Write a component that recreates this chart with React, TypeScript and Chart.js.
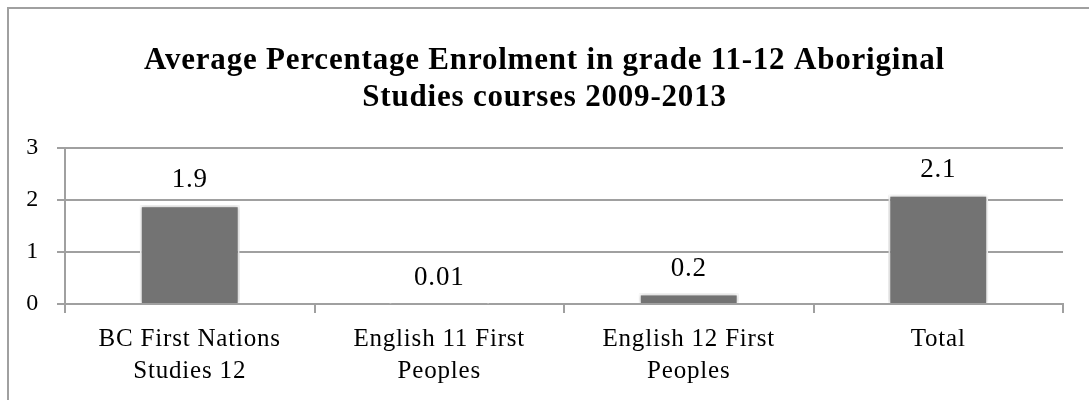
import React, { useEffect, useRef } from "react";
import { Chart, registerables } from "chart.js";

Chart.register(...registerables);

const titleLines = [
  "Average Percentage Enrolment in grade 11-12 Aboriginal",
  "Studies courses 2009-2013",
];
const categories: (string | string[])[] = [
  ["BC First Nations", "Studies 12"],
  ["English 11 First", "Peoples"],
  ["English 12 First", "Peoples"],
  "Total",
];
const values = [1.9, 0.01, 0.2, 2.1];
const valueLabels = ["1.9", "0.01", "0.2", "2.1"];
const yTicks = [0, 1, 2, 3];

const FONT = "'Liberation Serif', serif";
const GRID = "#a0a0a0";
const SPACING = "0.8px";

export default function App() {
  const ref = useRef<HTMLCanvasElement | null>(null);
  useEffect(() => {
    if (!ref.current) return;
    const setSpacing = (chart: any) => {
      (chart.ctx as any).letterSpacing = SPACING;
    };
    const spacingPlugin = {
      id: "spacing",
      beforeInit: setSpacing,
      beforeUpdate: setSpacing,
      beforeLayout: setSpacing,
      beforeDraw: setSpacing,
    };
    const titlePlugin = {
      id: "centeredTitle",
      afterDraw(chart: any) {
        const ctx = chart.ctx;
        ctx.save();
        ctx.font = "bold 31px " + FONT;
        ctx.fillStyle = "#000";
        ctx.textAlign = "center";
        ctx.textBaseline = "middle";
        const cx = chart.width / 2;
        ctx.fillText(titleLines[0], cx, 61);
        ctx.fillText(titleLines[1], cx, 98);
        ctx.restore();
      },
    };
    const shadowPlugin = {
      id: "barShadow",
      beforeDatasetsDraw(chart: any) {
        const ctx = chart.ctx;
        ctx.save();
        ctx.shadowColor = "rgba(0,0,0,0.3)";
        ctx.shadowBlur = 4;
      },
      afterDatasetsDraw(chart: any) {
        const ctx = chart.ctx;
        ctx.restore();
        const meta = chart.getDatasetMeta(0);
        ctx.save();
        ctx.font = "27px " + FONT;
        ctx.fillStyle = "#000";
        ctx.textAlign = "center";
        ctx.textBaseline = "alphabetic";
        meta.data.forEach((bar: any, i: number) => {
          ctx.fillText(valueLabels[i], bar.x, bar.y - 18);
        });
        ctx.restore();
      },
    };
    const chart = new Chart(ref.current, {
      type: "bar",
      data: {
        labels: categories,
        datasets: [
          {
            data: values,
            backgroundColor: "#737373",
            borderColor: "#ffffff",
            borderWidth: 2,
            barPercentage: 0.4,
            categoryPercentage: 1,
          },
        ],
      },
      options: {
        animation: false,
        responsive: false,
        maintainAspectRatio: false,
        layout: { padding: { left: 0, right: 26, top: 148, bottom: 0 } },
        plugins: {
          legend: { display: false },
          tooltip: { enabled: false },
          title: { display: false },
        },
        scales: {
          x: {
            grid: {
              drawOnChartArea: false,
              drawTicks: true,
              tickLength: 9,
              color: GRID,
              lineWidth: 2,
            },
            border: { color: GRID, width: 2 },
            ticks: {
              color: "#000",
              font: { family: FONT, size: 25, lineHeight: 1.26 },
              padding: 11,
              maxRotation: 0,
              autoSkip: false,
            },
            afterFit(scale: any) {
              scale.height = 96;
            },
          },
          y: {
            min: 0,
            max: 3,
            afterBuildTicks(scale: any) {
              scale.ticks = yTicks.map((v) => ({ value: v }));
            },
            grid: { color: GRID, lineWidth: 2, tickLength: 8 },
            border: { color: GRID, width: 2 },
            ticks: {
              color: "#000",
              font: { family: FONT, size: 24 },
              padding: 18,
            },
            afterFit(scale: any) {
              scale.width = 65;
            },
          },
        },
      },
      plugins: [spacingPlugin, shadowPlugin, titlePlugin],
    });
    return () => chart.destroy();
  }, []);
  return (
    <div style={{ position: "absolute", left: 0, top: 0, width: 1089, height: 400, overflow: "hidden", background: "#fff" }}>
      <div
        style={{
          position: "absolute",
          left: 7,
          top: 7,
          width: 1200,
          height: 500,
          borderLeft: "2px solid #a0a0a0",
          borderTop: "2px solid #a0a0a0",
        }}
      />
      <canvas ref={ref} width={1089} height={400} style={{ position: "absolute", left: 0, top: 0 }} />
    </div>
  );
}
